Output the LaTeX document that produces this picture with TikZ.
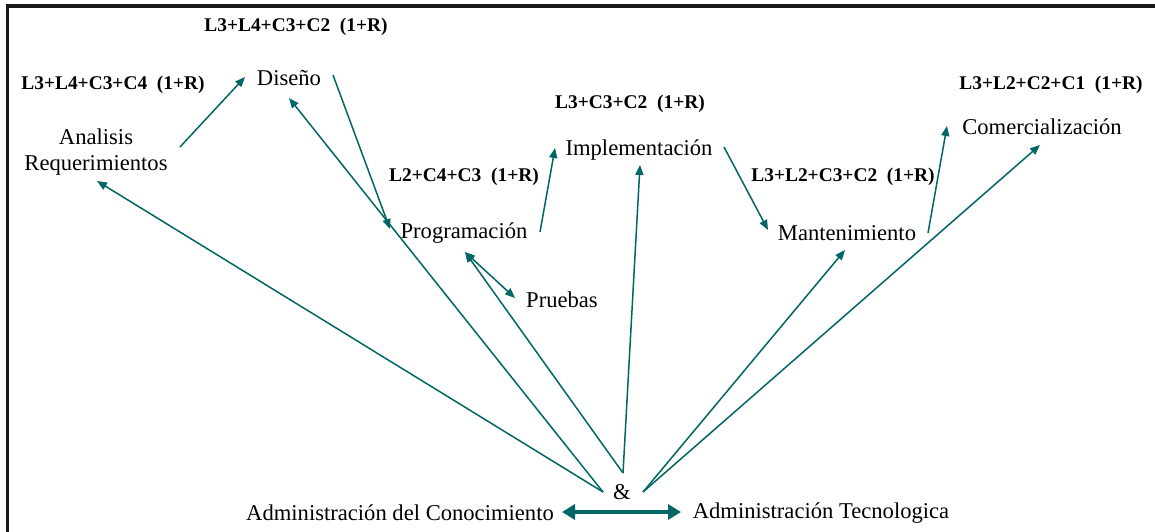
\documentclass[tikz,border=0pt]{standalone}
\usepackage{fontspec}
\setmainfont{Liberation Serif}
\usetikzlibrary{arrows.meta}
\definecolor{tealc}{RGB}{0,102,102}
\tikzset{
  lbl/.style={inner sep=0pt, font=\fontsize{22.6}{26}\selectfont},
  cost/.style={inner sep=0pt, font=\fontsize{19.4}{22}\selectfont\bfseries},
  conn/.style={draw=tealc, line width=1.5pt, -{Triangle[length=10pt,width=8pt]}, fill=tealc},
  bidir/.style={draw=tealc, fill=tealc, line width=1.5pt, {Triangle[length=10pt,width=8pt]}-{Triangle[length=10pt,width=8pt]}},
  thick2/.style={draw=tealc, fill=tealc, line width=4.5pt, {Triangle[length=13pt,width=15pt]}-{Triangle[length=13pt,width=15pt]}},
  frame/.style={line width=3.5pt, draw=black!90}
}
\begin{document}
\begin{tikzpicture}[x=1pt,y=-1pt]
\useasboundingbox (0,0) rectangle (1155,532);
\fill[white] (0,0) rectangle (1155,532);
\draw[frame] (7.5,532) -- (7.5,6) -- (1155,6);

% labels
\node[cost] (c1) at (296,27) {L3+L4+C3+C2\ \ (1+R)};
\node[cost] (c2) at (113,85) {L3+L4+C3+C4\ \ (1+R)};
\node[cost] (c3) at (630,104) {L3+C3+C2\ \ (1+R)};
\node[cost] (c4) at (464,177) {L2+C4+C3\ \ (1+R)};
\node[cost] (c5) at (843,177) {L3+L2+C3+C2\ \ (1+R)};
\node[cost] (c6) at (1051,85) {L3+L2+C2+C1\ \ (1+R)};

\node[lbl] (dis) at (289,78) {Diseño};
\node[lbl, align=center] (ana) at (96,152) {Analisis\\Requerimientos};
\node[lbl] (imp) at (639,150) {Implementación};
\node[lbl] (pro) at (464,233) {Programación};
\node[lbl] (pru) at (562,300) {Pruebas};
\node[lbl] (man) at (847,233) {Mantenimiento};
\node[lbl] (com) at (1042,127) {Comercialización};
\node[lbl] (amp) at (622,492) {\&};
\node[lbl] (akn) at (400,513) {Administración del Conocimiento};
\node[lbl] (atec) at (821,513) {Administración Tecnologica};

% connector ends
\coordinate (anaO) at (180,147);
\coordinate (disI1) at (245,77);
\coordinate (disO) at (333,75);
\coordinate (proI1) at (390,229);
\coordinate (disI2) at (289,98);
\coordinate (anaI) at (97,181);
\coordinate (proO) at (540,232);
\coordinate (impI1) at (555,148);
\coordinate (impO) at (724,147);
\coordinate (manI1) at (768,230);
\coordinate (manO) at (928,233);
\coordinate (comI1) at (947,126);
\coordinate (proI2) at (465,252);
\coordinate (pruI) at (515,298);
\coordinate (impI2) at (640,165);
\coordinate (manI2) at (845,250);
\coordinate (comI2) at (1040,145);
\coordinate (srcL) at (603,492);
\coordinate (srcM) at (623,473);
\coordinate (srcR) at (643,492);
\coordinate (bl) at (562,512);
\coordinate (br) at (681,512);

% process chain
\draw[conn] (anaO) -- (disI1);
\draw[conn] (disO) -- (proI1);
\draw[conn] (proO) -- (impI1);
\draw[conn] (impO) -- (manI1);
\draw[conn] (manO) -- (comI1);
\draw[bidir] (proI2) -- (pruI);

% from &
\draw[conn] (srcL) -- (anaI);
\draw[conn] (srcL) -- (disI2);
\draw[conn] (srcM) -- (proI2);
\draw[conn] (srcM) -- (impI2);
\draw[conn] (srcR) -- (manI2);
\draw[conn] (srcR) -- (comI2);

\draw[thick2] (bl) -- (br);
\end{tikzpicture}
\end{document}
